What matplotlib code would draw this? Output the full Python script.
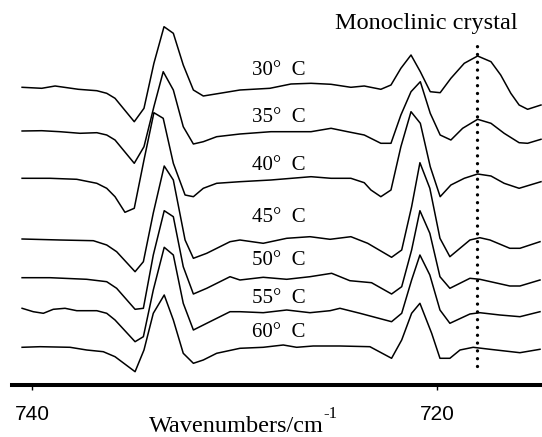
import matplotlib
matplotlib.use("Agg")
import matplotlib.pyplot as plt

plt.rcParams['font.family'] = ['Liberation Serif', 'DejaVu Serif']

# spectra (wavenumber, stacked absorbance)
wn_30 = [740.49, 739.52, 738.86, 737.71, 736.80, 736.31, 735.90, 734.95, 734.47, 733.98,
         733.48, 733.02, 732.53, 732.03, 731.54, 730.72, 729.73, 728.25, 727.21, 726.22,
         725.23, 724.25, 723.59, 722.77, 722.27, 721.78, 721.28, 720.82, 720.33, 719.84,
         719.31, 718.65, 717.99, 717.33, 716.85, 716.35, 715.94, 715.52, 714.86]
ab_30 = [2.977, 2.967, 2.99, 2.957, 2.943, 2.917, 2.867, 2.633, 2.767, 3.217,
         3.583, 3.517, 3.20, 2.95, 2.89, 2.917, 2.95, 2.967, 3.01, 3.017,
         3.007, 2.977, 2.99, 2.957, 3.00, 3.167, 3.30, 3.133, 2.933, 2.923,
         3.067, 3.217, 3.29, 3.233, 3.10, 2.917, 2.80, 2.757, 2.80]

wn_35 = [740.49, 739.52, 738.62, 737.63, 736.80, 736.31, 735.90, 734.95, 734.47, 733.98,
         733.52, 733.02, 732.53, 732.03, 731.54, 730.88, 729.73, 728.20, 726.22, 725.23,
         724.41, 723.59, 722.77, 722.27, 721.78, 721.28, 720.82, 720.33, 719.84, 719.31,
         718.73, 717.99, 717.33, 716.68, 715.94, 715.52, 714.86]
ab_35 = [2.54, 2.543, 2.533, 2.517, 2.523, 2.50, 2.45, 2.217, 2.383, 2.783,
         3.133, 2.95, 2.583, 2.41, 2.433, 2.483, 2.51, 2.533, 2.533, 2.567,
         2.533, 2.50, 2.417, 2.417, 2.70, 2.933, 3.033, 2.717, 2.50, 2.45,
         2.567, 2.657, 2.617, 2.517, 2.423, 2.417, 2.457]

wn_40 = [740.49, 739.11, 737.79, 736.80, 736.31, 735.90, 735.41, 734.95, 734.47, 733.98,
         733.52, 733.02, 732.44, 732.03, 731.54, 730.88, 729.73, 728.20, 726.22, 725.23,
         724.25, 723.59, 723.26, 722.77, 722.27, 721.78, 721.28, 720.82, 720.33, 719.84,
         719.31, 718.65, 717.99, 717.33, 716.68, 715.94, 714.86]
ab_40 = [2.067, 2.067, 2.057, 2.017, 1.967, 1.883, 1.727, 1.767, 2.25, 2.723,
         2.667, 2.217, 1.90, 1.883, 1.967, 2.017, 2.033, 2.05, 2.083, 2.067,
         2.067, 2.023, 1.95, 1.883, 1.95, 2.383, 2.733, 2.617, 2.183, 1.883,
         2.00, 2.067, 2.11, 2.09, 2.017, 1.967, 2.033]

wn_45 = [740.49, 738.62, 736.97, 736.31, 735.82, 734.91, 734.50, 734.01, 733.47, 733.02,
         732.44, 732.03, 731.37, 730.22, 729.73, 728.58, 727.42, 726.27, 725.28, 724.25,
         723.42, 722.24, 721.74, 721.25, 720.84, 720.35, 719.85, 719.36, 718.37, 717.88,
         717.38, 716.40, 715.90, 714.91]
ab_45 = [1.46, 1.45, 1.443, 1.40, 1.333, 1.133, 1.233, 1.72, 2.19, 2.05,
         1.45, 1.267, 1.317, 1.433, 1.45, 1.417, 1.467, 1.483, 1.457, 1.483,
         1.417, 1.277, 1.35, 1.783, 2.223, 1.967, 1.467, 1.283, 1.45, 1.473,
         1.45, 1.367, 1.367, 1.433]

wn_50 = [740.49, 739.11, 737.30, 736.31, 735.82, 734.91, 734.50, 734.01, 733.47, 733.02,
         732.53, 732.03, 731.37, 730.22, 729.73, 728.58, 727.42, 726.27, 725.20, 724.30,
         723.23, 722.24, 721.74, 721.25, 720.84, 720.35, 719.85, 719.36, 718.37, 717.88,
         716.40, 715.90, 714.91]
ab_50 = [1.073, 1.073, 1.057, 1.033, 0.967, 0.757, 0.767, 1.30, 1.743, 1.683,
         1.183, 0.91, 0.967, 1.083, 1.05, 1.077, 1.057, 1.083, 1.117, 1.043,
         1.023, 0.91, 0.983, 1.35, 1.743, 1.517, 1.083, 0.967, 1.067, 1.057,
         0.99, 0.99, 1.05]

wn_55 = [740.49, 739.94, 739.44, 738.95, 738.37, 737.79, 736.80, 736.31, 735.90, 734.91,
         734.50, 734.01, 733.47, 733.02, 732.53, 732.03, 731.37, 730.22, 729.73, 728.58,
         727.42, 726.27, 725.28, 724.79, 723.80, 722.24, 721.74, 721.25, 720.84, 720.35,
         719.85, 719.36, 718.37, 717.88, 716.89, 715.90, 714.91]
ab_55 = [0.767, 0.733, 0.717, 0.757, 0.767, 0.743, 0.743, 0.717, 0.65, 0.433,
         0.483, 0.95, 1.377, 1.30, 0.817, 0.55, 0.617, 0.733, 0.733, 0.723,
         0.75, 0.723, 0.743, 0.767, 0.717, 0.633, 0.717, 1.05, 1.30, 1.10,
         0.75, 0.617, 0.71, 0.723, 0.70, 0.683, 0.733]

wn_60 = [740.49, 739.60, 738.12, 737.30, 736.48, 735.90, 734.91, 734.47, 734.01, 733.47,
         733.02, 732.53, 732.03, 731.54, 730.88, 729.73, 728.58, 727.59, 726.93, 726.11,
         724.79, 723.31, 722.24, 721.74, 721.25, 720.84, 720.26, 719.85, 719.36, 718.86,
         718.21, 717.38, 715.90, 714.91]
ab_60 = [0.377, 0.383, 0.377, 0.35, 0.333, 0.283, 0.133, 0.35, 0.717, 0.90,
         0.65, 0.317, 0.217, 0.25, 0.317, 0.367, 0.377, 0.40, 0.377, 0.39,
         0.39, 0.383, 0.267, 0.45, 0.717, 0.817, 0.517, 0.267, 0.267, 0.35,
         0.377, 0.357, 0.323, 0.357]

temps = ["30\u00b0  C", "35\u00b0  C", "40\u00b0  C", "45\u00b0  C", "50\u00b0  C", "55\u00b0  C", "60\u00b0  C"]
spectra = [(wn_30, ab_30), (wn_35, ab_35), (wn_40, ab_40), (wn_45, ab_45),
           (wn_50, ab_50), (wn_55, ab_55), (wn_60, ab_60)]
monoclinic_wn = 718.0

# label baselines (layout only)
label_y = [3.10, 2.63, 2.15, 1.63, 1.20, 0.82, 0.48]

fig = plt.figure(figsize=(5.42, 4.37), dpi=100)
ax = fig.add_axes([0.0221, 0.119, 0.9779, 0.881])

for (x, y) in spectra:
    ax.plot(x, y, color='black', lw=1.1)

for t, ly in zip(temps, label_y):
    ax.text(729.15, ly, t, fontsize=15, ha='left', va='baseline')

ax.plot([monoclinic_wn, monoclinic_wn], [0.19, 3.39], color='black', lw=2.4,
        linestyle=(0, (0.01, 2.33)), dash_capstyle='round')
ax.text(720.0 - (426.5 - 437) / 20.25, 3.555, "Monoclinic crystal", fontsize=17.5,
        ha='center', va='baseline')

ax.set_xlim(740.99, 714.81)
ax.set_ylim(0, 3.85)
for s in ['top', 'left', 'right']:
    ax.spines[s].set_visible(False)
ax.spines['bottom'].set_linewidth(2.9)
ax.set_yticks([])
ax.set_xticks([740, 720])
ax.tick_params(axis='x', direction='out', length=3.5, width=1, pad=11)
for lab in ax.get_xticklabels():
    lab.set_fontfamily('Liberation Sans')
    lab.set_fontsize(15)

xl = fig.text(236 / 542, 1 - 432.5 / 437, "Wavenumbers/cm", fontsize=17.5,
              ha='center', va='baseline')
ax.annotate("-1", xy=(1.0, 0.72), xycoords=xl, ha='left', va='bottom', fontsize=12)

fig.savefig("out.png", dpi=100)
